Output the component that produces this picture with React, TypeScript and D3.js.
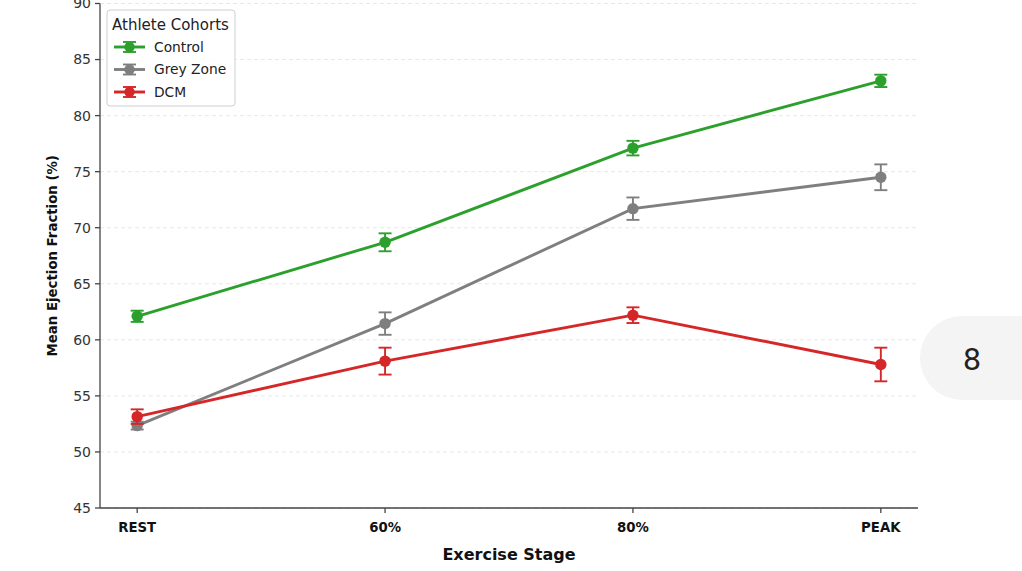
import React from "react";
import * as d3 from "d3";

const stages = ["REST", "60%", "80%", "PEAK"];
const controlMean = [62.1, 68.7, 77.1, 83.1];
const controlErr = [0.5, 0.8, 0.65, 0.55];
const greyMean = [52.35, 61.45, 71.7, 74.5];
const greyErr = [0.35, 1.0, 1.0, 1.15];
const dcmMean = [53.15, 58.1, 62.2, 57.8];
const dcmErr = [0.65, 1.2, 0.7, 1.5];
const yTicks = [45, 50, 55, 60, 65, 70, 75, 80, 85, 90];

const series = [
  { name: "Control", color: "#2ca02c", mean: controlMean, err: controlErr },
  { name: "Grey Zone", color: "#7f7f7f", mean: greyMean, err: greyErr },
  { name: "DCM", color: "#d62728", mean: dcmMean, err: dcmErr },
];

const W = 1022;
const H = 571;
const margin = { top: 3.5, right: 104, bottom: 63, left: 100 };
const font = "DejaVu Sans, sans-serif";

export default function App() {
  const innerW = W - margin.left - margin.right;
  const innerH = H - margin.top - margin.bottom;

  const x = d3.scaleLinear().domain([-0.15, 3.15]).range([0, innerW]);
  const y = d3.scaleLinear().domain([45, 90]).range([innerH, 0]);
  const line = d3
    .line<number>()
    .x((_, i) => x(i))
    .y((d) => y(d));

  return (
    <svg
      width={W}
      height={H}
      style={{ position: "absolute", left: 0, top: 0, background: "#fff" }}
      fontFamily={font}
    >
      <g transform={`translate(${margin.left},${margin.top})`}>
        {/* grid */}
        <g stroke="#e2e2e2" strokeDasharray="4,3" strokeWidth={0.8}>
          {yTicks.map((t) => (
            <line key={t} x1={0} x2={innerW} y1={y(t)} y2={y(t)} />
          ))}
        </g>

        {/* series */}
        {series.map((s) => (
          <g key={s.name}>
            <path d={line(s.mean) ?? ""} fill="none" stroke={s.color} strokeWidth={2.9} />
            {s.mean.map((m, i) => (
              <g key={i} stroke={s.color} strokeWidth={1.9}>
                <line x1={x(i)} x2={x(i)} y1={y(m - s.err[i])} y2={y(m + s.err[i])} />
                <line x1={x(i) - 6.5} x2={x(i) + 6.5} y1={y(m - s.err[i])} y2={y(m - s.err[i])} />
                <line x1={x(i) - 6.5} x2={x(i) + 6.5} y1={y(m + s.err[i])} y2={y(m + s.err[i])} />
                <circle cx={x(i)} cy={y(m)} r={5.7} fill={s.color} stroke="none" />
              </g>
            ))}
          </g>
        ))}

        {/* axes */}
        <g stroke="#444" strokeWidth={1.3}>
          <line x1={0} x2={0} y1={0} y2={innerH} />
          <line x1={0} x2={innerW} y1={innerH} y2={innerH} />
          {yTicks.map((t) => (
            <line key={t} x1={-5} x2={0} y1={y(t)} y2={y(t)} />
          ))}
          {stages.map((s, i) => (
            <line key={s} x1={x(i)} x2={x(i)} y1={innerH} y2={innerH + 5} />
          ))}
        </g>
        <g fill="#333" fontSize={14} textAnchor="end">
          {yTicks.map((t) => (
            <text key={t} x={-9} y={y(t)} dy="0.35em">
              {t}
            </text>
          ))}
        </g>
        <g fill="#111" fontSize={13.3} fontWeight="bold" textAnchor="middle">
          {stages.map((s, i) => (
            <text key={s} x={x(i)} y={innerH + 24}>
              {s}
            </text>
          ))}
        </g>
        <text
          x={x(1.5)}
          y={innerH + 52}
          textAnchor="middle"
          fontSize={16}
          fontWeight="bold"
          fill="#111"
        >
          Exercise Stage
        </text>
        <text
          transform={`translate(-43,${innerH / 2}) rotate(-90)`}
          textAnchor="middle"
          fontSize={13.3}
          fontWeight="bold"
          fill="#111"
        >
          Mean Ejection Fraction (%)
        </text>

        {/* legend */}
        <g transform="translate(7,6.5)">
          <rect
            width={128}
            height={96}
            rx={3}
            fill="#fff"
            fillOpacity={0.85}
            stroke="#cfcfcf"
          />
          <text x={5} y={20} fontSize={15} fill="#222">
            Athlete Cohorts
          </text>
          {series.map((s, i) => (
            <g key={s.name} transform={`translate(0,${37 + i * 22.5})`} stroke={s.color}>
              <line x1={7} x2={38} strokeWidth={2.9} />
              <line x1={22.5} x2={22.5} y1={-5} y2={5} strokeWidth={1.9} />
              <line x1={16} x2={29} y1={-5} y2={-5} strokeWidth={1.9} />
              <line x1={16} x2={29} y1={5} y2={5} strokeWidth={1.9} />
              <circle cx={22.5} r={5.2} fill={s.color} stroke="none" />
              <text x={47} dy="0.35em" fontSize={13.8} fill="#222" stroke="none">
                {s.name}
              </text>
            </g>
          ))}
        </g>
      </g>

      {/* page badge overlay */}
      <rect x={920} y={316} width={140} height={84} rx={42} fill="#f4f4f4" />
      <text x={972} y={370} textAnchor="middle" fontSize={32} fill="#222" fontFamily="Roboto, sans-serif">
        8
      </text>
    </svg>
  );
}
